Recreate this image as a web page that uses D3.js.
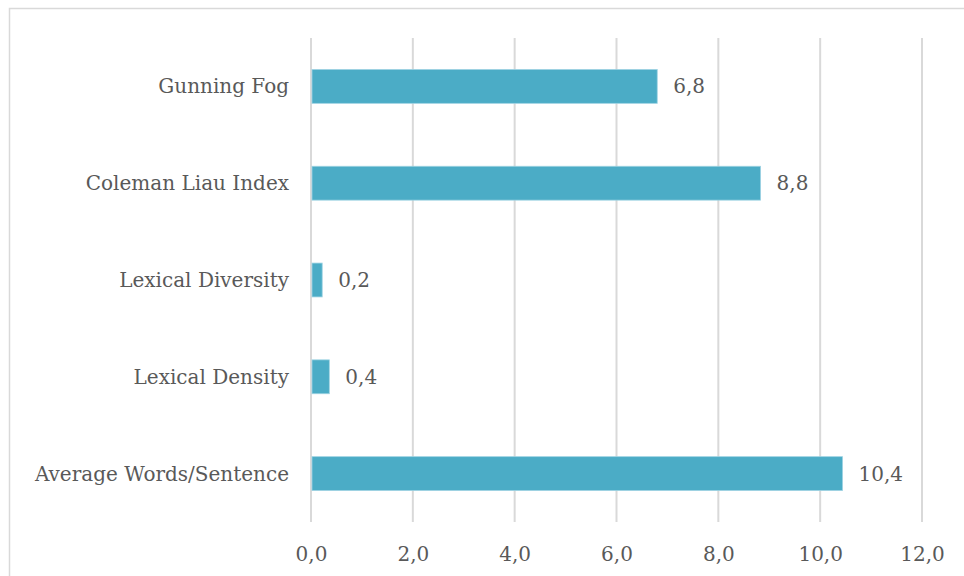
<!DOCTYPE html>
<html>
<head>
<meta charset="utf-8">
<script src="https://cdn.jsdelivr.net/npm/d3@7/dist/d3.min.js"></script>
<style>
  body { margin: 0; background: #fff; }
  text { font-family: "DejaVu Serif", "Liberation Serif", serif; fill: #595959; }
</style>
</head>
<body>
<div id="canvas"></div>
<script>
// chart data
var categories = ["Gunning Fog", "Coleman Liau Index", "Lexical Diversity", "Lexical Density", "Average Words/Sentence"];
var values = [6.8, 8.83, 0.22, 0.36, 10.44];
var xTicks = [0, 2, 4, 6, 8, 10, 12];

var width = 964, height = 576;
var plot = {left: 311, right: 922, top: 38, bottom: 522};
var fontFamily = "DejaVu Serif, Liberation Serif, serif";
var fontSize = "20px";

var svg = d3.select("#canvas").append("svg")
    .attr("width", width)
    .attr("height", height);

// outer chart border (runs off the right and bottom edge)
svg.append("rect")
    .attr("x", 9.5).attr("y", 8.5)
    .attr("width", 1000).attr("height", 1000)
    .attr("fill", "none")
    .attr("stroke", "#d9d9d9")
    .attr("stroke-width", 1.5);

var x = d3.scaleLinear().domain([0, 12]).range([plot.left, plot.right]);
var y = d3.scaleBand().domain(categories).range([plot.top, plot.bottom]).paddingInner(0.65).paddingOuter(0.325);

var fmt = function(v) { return d3.format(".1f")(v).replace(".", ","); };

// grid
svg.append("g").selectAll("line")
    .data(xTicks)
    .enter().append("line")
    .attr("x1", function(d) { return x(d); })
    .attr("x2", function(d) { return x(d); })
    .attr("y1", plot.top)
    .attr("y2", plot.bottom)
    .attr("stroke", "#d9d9d9")
    .attr("stroke-width", 2);

// x axis labels
var xaxis = d3.axisBottom(x).tickValues(xTicks).tickFormat(fmt).tickSize(0).tickPadding(0);
var gx = svg.append("g")
    .attr("transform", "translate(0," + plot.bottom + ")")
    .call(xaxis);
gx.select(".domain").remove();
gx.selectAll("text")
    .attr("y", 39)
    .attr("dy", 0)
    .style("font-size", fontSize)
    .style("font-family", fontFamily)
    .attr("fill", "#595959");

// y axis labels
var yaxis = d3.axisLeft(y).tickSize(0).tickPadding(22);
var gy = svg.append("g")
    .attr("transform", "translate(" + plot.left + ",0)")
    .call(yaxis);
gy.select(".domain").remove();
gy.selectAll("text")
    .attr("dy", "0.35em")
    .style("font-size", fontSize)
    .style("font-family", fontFamily)
    .attr("fill", "#595959");

// bars
var rows = categories.map(function(c, i) { return {name: c, value: values[i]}; });
svg.append("g").selectAll("rect")
    .data(rows)
    .enter().append("rect")
    .attr("x", x(0) + 1)
    .attr("y", function(d) { return y(d.name); })
    .attr("width", function(d) { return x(d.value) - x(0) - 1; })
    .attr("height", y.bandwidth())
    .attr("fill", "#4bacc6")
    .attr("stroke", "#9fd3e3")
    .attr("stroke-width", 0.8);

// value labels
svg.append("g").selectAll("text")
    .data(rows)
    .enter().append("text")
    .attr("x", function(d) { return x(d.value) + 16; })
    .attr("y", function(d) { return y(d.name) + y.bandwidth() / 2; })
    .attr("dy", "0.35em")
    .style("font-size", fontSize)
    .text(function(d) { return fmt(d.value); });
</script>
</body>
</html>
